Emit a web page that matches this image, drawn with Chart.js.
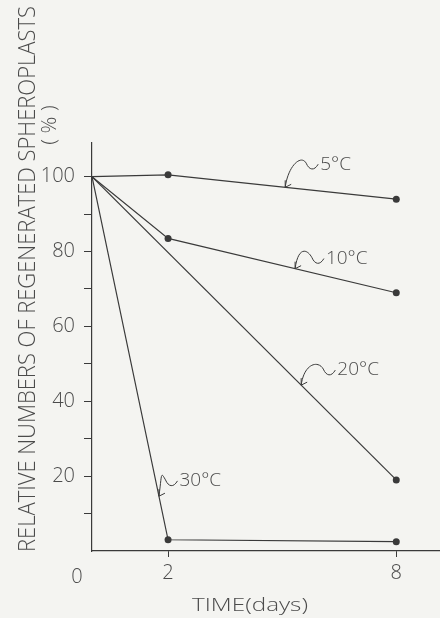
<!DOCTYPE html>
<html>
<head>
<meta charset="utf-8">
<script src="https://cdn.jsdelivr.net/npm/chart.js@4.4.1/dist/chart.umd.min.js"></script>
<style>
  html, body { margin: 0; padding: 0; background: #f4f4f1; }
  #wrap { width: 440px; height: 618px; position: relative; }
</style>
</head>
<body>
<div id="wrap"><canvas id="chart"></canvas></div>
<script>
// values: time (days) vs relative % of regenerated spheroplasts
const days = [0, 2, 8];
const days20 = [0, 8];
const temp5 = [100, 100.5, 94];
const temp10 = [100, 83.5, 69];
const temp20 = [100, 19];
const temp30 = [100, 3, 2.5];

const seriesNames = ["5°C", "10°C", "20°C", "30°C"];
const xTickValues = [2, 8];
const yTickValues = [10, 20, 30, 40, 50, 60, 70, 80, 90, 100];

const INK = "#3a3a3a";
const TEXT = "#4b4b4b";
const FONT = '"Open Sans", "DejaVu Sans", sans-serif';

const toPoints = (xs, ys) => xs.map((x, i) => ({ x, y: ys[i] }));

/* ============================
   hand lettered labels + arrows
============================ */
// label left-middle in data units, and the day where the arrow meets its line
const callouts = [
  { at: [6.0, 103.6], tipDay: 5.08 },
  { at: [6.15, 78.4], tipDay: 5.34 },
  { at: [6.45, 48.6], tipDay: 5.5 },
  { at: [2.3, 19.0], tipDay: 1.76 },
];

function valueOnLine(data, day) {
  for (let i = 0; i < data.length - 1; i++) {
    const a = data[i], b = data[i + 1];
    if (day >= a.x && day <= b.x) {
      return a.y + (b.y - a.y) * (day - a.x) / (b.x - a.x);
    }
  }
  return data[data.length - 1].y;
}

function drawPointer(ctx, lx, ly, tx, ty) {
  ctx.beginPath();
  ctx.moveTo(lx - 2, ly + 1);
  ctx.bezierCurveTo(lx - 6, ly + 8, lx - 11, ly + 7, lx - 14, ly);
  ctx.bezierCurveTo(lx - 19, ly - 9, tx + 3, ty - 22, tx, ty);
  ctx.stroke();
  // arrow head
  ctx.beginPath();
  ctx.moveTo(tx, ty - 7);
  ctx.lineTo(tx, ty);
  ctx.lineTo(tx + 6, ty - 3);
  ctx.stroke();
}

const paperText = {
  id: "paperText",
  afterDraw(chart) {
    const { ctx, scales } = chart;
    const xs = scales.x, ys = scales.y;
    ctx.save();
    ctx.fillStyle = TEXT;
    ctx.strokeStyle = INK;
    ctx.lineWidth = 1;

    // y title, rotated, squeezed to the length of the axis
    ctx.save();
    ctx.translate(35, 279);
    ctx.rotate(-Math.PI / 2);
    ctx.font = "300 23px " + FONT;
    const yTitle = "RELATIVE NUMBERS OF REGENERATED SPHEROPLASTS";
    const w = ctx.measureText(yTitle).width;
    ctx.scale(546 / w, 1);
    ctx.textAlign = "center";
    ctx.textBaseline = "alphabetic";
    ctx.fillText(yTitle, 0, 0);
    ctx.restore();

    ctx.save();
    ctx.translate(56, 125);
    ctx.rotate(-Math.PI / 2);
    ctx.font = "300 21px " + FONT;
    ctx.textAlign = "center";
    ctx.fillText("( % )", 0, 0);
    ctx.restore();

    // x title
    ctx.font = "300 19px " + FONT;
    ctx.textAlign = "center";
    ctx.textBaseline = "middle";
    const xTitle = "TIME(days)";
    const tw = ctx.measureText(xTitle).width;
    ctx.save();
    ctx.translate(250, 606);
    ctx.scale(116 / tw, 1);
    ctx.fillText(xTitle, 0, 0);
    ctx.restore();

    // origin
    ctx.font = "300 20px " + FONT;
    ctx.fillText("0", xs.getPixelForValue(0) - 15, ys.getPixelForValue(0) + 26);

    // temperature call-outs
    chart.data.datasets.forEach((ds, i) => {
      const c = callouts[i];
      const lx = xs.getPixelForValue(c.at[0]);
      const ly = ys.getPixelForValue(c.at[1]);
      const tx = xs.getPixelForValue(c.tipDay);
      const ty = ys.getPixelForValue(valueOnLine(ds.data, c.tipDay));
      ctx.font = "300 19px " + FONT;
      ctx.textAlign = "left";
      ctx.textBaseline = "middle";
      ctx.fillText(ds.label, lx, ly + 1);
      drawPointer(ctx, lx, ly, tx, ty);
    });
    ctx.restore();
  },
};

function lineSet(label, xs, ys) {
  return {
    label,
    data: toPoints(xs, ys),
    borderColor: INK,
    backgroundColor: INK,
    borderWidth: 1.2,
    pointRadius: (c) => (c.dataIndex === 0 ? 0 : 3.5),
    pointBorderWidth: 0,
    tension: 0,
  };
}

new Chart(document.getElementById("chart"), {
  type: "line",
  data: {
    datasets: [
      lineSet(seriesNames[0], days, temp5),
      lineSet(seriesNames[1], days, temp10),
      lineSet(seriesNames[2], days20, temp20),
      lineSet(seriesNames[3], days, temp30),
    ],
  },
  options: {
    responsive: true,
    maintainAspectRatio: false,
    animation: false,
    layout: { autoPadding: false, padding: { top: 143, right: 0, left: 0, bottom: 0 } },
    plugins: { legend: { display: false }, tooltip: { enabled: false } },
    scales: {
      x: {
        type: "linear",
        min: 0,
        max: 9.15,
        afterBuildTicks: (s) => { s.ticks = xTickValues.map((v) => ({ value: v })); },
        afterFit: (s) => { s.height = 67; },
        border: { display: true, color: INK, width: 1.2 },
        grid: { drawOnChartArea: false, drawTicks: true, tickLength: 6, color: INK, lineWidth: 1 },
        ticks: { color: TEXT, padding: 4, font: { family: FONT, size: 20, weight: 300 } },
      },
      y: {
        min: 0,
        max: 109,
        afterBuildTicks: (s) => { s.ticks = yTickValues.map((v) => ({ value: v })); },
        afterFit: (s) => { s.width = 92; },
        border: { display: true, color: INK, width: 1.2 },
        grid: { drawOnChartArea: false, drawTicks: true, tickLength: 8, color: INK, lineWidth: 1 },
        ticks: {
          color: TEXT,
          padding: 9,
          font: { family: FONT, size: 20, weight: 300 },
          callback: (v) => (v % 20 === 0 ? v : ""),
        },
      },
    },
  },
  plugins: [paperText],
});
</script>
</body>
</html>
